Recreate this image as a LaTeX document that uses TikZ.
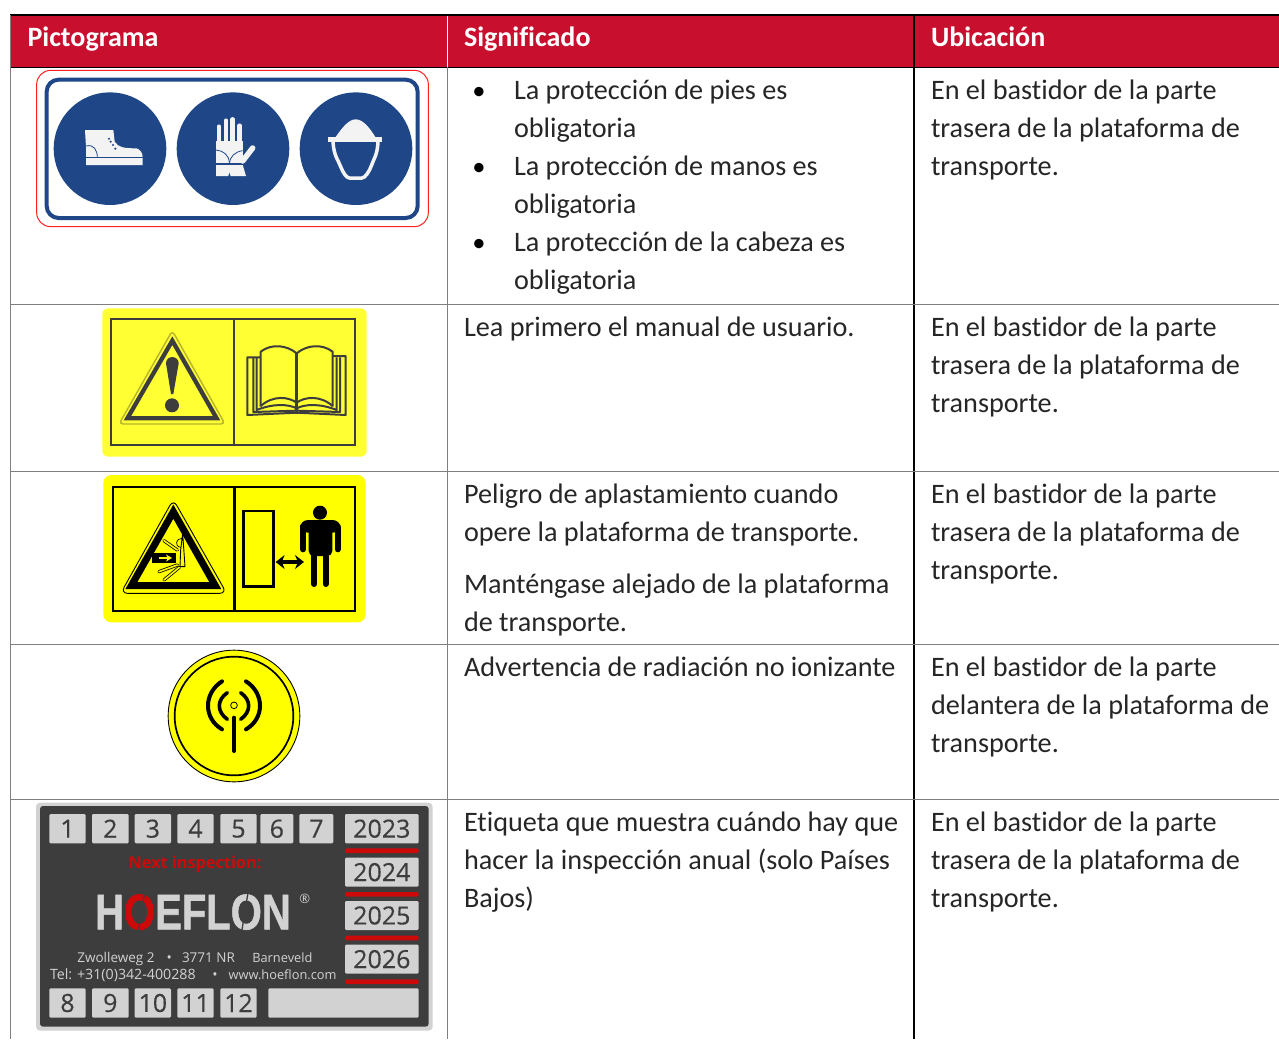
\documentclass[tikz,border=0pt]{standalone}
\usepackage{fontspec}
\usetikzlibrary{arrows.meta}
\setmainfont{Carlito}[Ligatures=NoCommon]
\newfontfamily\opensans{Open Sans}
\newfontfamily\opensansb[FakeBold=0.35]{Open Sans}
\newfontfamily\logofont[FakeBold=1.2]{Liberation Sans}
\definecolor{hdrred}{HTML}{C8102E}
\definecolor{signblue}{HTML}{1F4788}
\definecolor{ruleg}{HTML}{7F7F7F}
\definecolor{labdark}{HTML}{3D3D3D}
\definecolor{labbox}{HTML}{D2D2D2}
\definecolor{labred}{HTML}{CC0A0A}
\definecolor{softy}{HTML}{FFFF33}
\definecolor{puryel}{HTML}{FFFF00}
\definecolor{halo}{HTML}{B4B42D}
\definecolor{brightred}{HTML}{FF2020}
\definecolor{offwhite}{HTML}{F3F3F3}
\definecolor{textk}{HTML}{262626}
\newcounter{txn}
\newcommand{\tx}[3]{\stepcounter{txn}\node[bodytext] (t\thetxn) at (#1,#2+0.6) {#3};}
\newcommand{\hd}[2]{\stepcounter{txn}\node[headtext] (t\thetxn) at (#1,46.5) {#2};}
\newcommand{\bul}[1]{\stepcounter{txn}\node[bullettext] (t\thetxn) at (479,#1) {•};}
\newcommand{\lab}[5]{\fill[labbox,rounded corners=1.2pt] (#1,#2) rectangle (#3,#4); \stepcounter{txn}\node[labnum] (t\thetxn) at ({(#1+#3)/2},{(#2+#4)/2}) {#5};}
\newcommand{\addrsize}[1]{\fontsize{#1}{16}\selectfont}
\tikzset{
  bodytext/.style={anchor=base west,inner sep=0,outer sep=0,text=textk,font=\fontsize{28.2}{32}\selectfont},
  headtext/.style={anchor=base west,inner sep=0,outer sep=0,text=white,font=\fontsize{28}{32}\selectfont\bfseries},
  bullettext/.style={anchor=base,inner sep=0,outer sep=0,text=black,font=\fontsize{26.5}{30}\selectfont},
  labnum/.style={inner sep=0,outer sep=0,text=labdark,font=\opensansb\fontsize{25}{28}\selectfont},
  addr/.style={anchor=base west,inner sep=0,outer sep=0,text=labbox,font=\opensans},
  zoomed/.style={x=0.33333pt,y=-0.33333pt},
  gridline/.style={draw=ruleg,line width=1pt},
  darkline/.style={draw=black,line width=1.2pt}
}
\begin{document}
\begin{tikzpicture}[x=1pt,y=-1pt]
\useasboundingbox (0,0) rectangle (1279,1039);
\fill[white] (0,0) rectangle (1279,1039);
% table
\fill[hdrred] (10,15) rectangle (1279,67);
\draw[darkline] (10,15) -- (1279,15);
\draw[darkline] (10,67.5) -- (1279,67.5);
\draw[gridline] (10,15) -- (10,1039);
\draw[gridline] (447.5,67) -- (447.5,1039);
\draw[draw=white,line width=1pt] (447.5,16) -- (447.5,67);
\draw[darkline] (914,15) -- (914,1039);
\draw[gridline] (10,304.5) -- (1279,304.5);
\draw[gridline] (10,471.5) -- (1279,471.5);
\draw[gridline] (10,644.5) -- (1279,644.5);
\draw[gridline] (10,799.5) -- (1279,799.5);
\hd{27.5}{Pictograma}
\hd{464}{Significado}
\hd{931}{Ubicación}
% column 2
\bul{99}\bul{175}\bul{251}
\tx{514}{99}{La protección de pies es}
\tx{514}{137}{obligatoria}
\tx{514}{175}{La protección de manos es}
\tx{514}{213}{obligatoria}
\tx{514}{251}{La protección de la cabeza es}
\tx{514}{289}{obligatoria}
\tx{464}{336}{Lea primero el manual de usuario.}
\tx{464}{503}{Peligro de aplastamiento cuando}
\tx{464}{541}{opere la plataforma de transporte.}
\tx{464}{593}{Manténgase alejado de la plataforma}
\tx{464}{631}{de transporte.}
\tx{464}{676}{Advertencia de radiación no ionizante}
\tx{464}{831}{Etiqueta que muestra cuándo hay que}
\tx{464}{869}{hacer la inspección anual (solo Países}
\tx{464}{907}{Bajos)}
% column 3
\tx{931}{99}{En el bastidor de la parte}
\tx{931}{137}{trasera de la plataforma de}
\tx{931}{175}{transporte.}
\tx{931}{336}{En el bastidor de la parte}
\tx{931}{374}{trasera de la plataforma de}
\tx{931}{412}{transporte.}
\tx{931}{503}{En el bastidor de la parte}
\tx{931}{541}{trasera de la plataforma de}
\tx{931}{579}{transporte.}
\tx{931}{676}{En el bastidor de la parte}
\tx{931}{714}{delantera de la plataforma de}
\tx{931}{752}{transporte.}
\tx{931}{831}{En el bastidor de la parte}
\tx{931}{869}{trasera de la plataforma de}
\tx{931}{907}{transporte.}
% sign 1
\begin{scope}[shift={(20,60)},zoomed]
\draw[brightred,line width=1pt,rounded corners=14pt] (50,31) rectangle (1225,500);
\draw[signblue,line width=4pt,fill=white,rounded corners=12pt] (80,59) rectangle (1193,474);
\fill[signblue] (270,266) circle (169);
\fill[signblue] (639,266) circle (169);
\fill[signblue] (1008,266) circle (169);
% boot
\fill[offwhite] (195,210) -- (280,210) -- (284,245) .. controls (295,262) and (310,265) .. (350,265) .. controls (360,268) and (368,278) .. (368,292) -- (368,315) -- (198,315) -- (198,262) -- cycle;
\draw[signblue,line width=1pt] (198,293) -- (368,293);
\draw[signblue,line width=.8pt] (198,258) .. controls (222,252) and (232,270) .. (232,293);
\foreach \dx/\dy in {267/236,272/245,279/255,286/266} \fill[signblue] (\dx,\dy) circle (3.5);
% glove
\begin{scope}[offwhite,line width=4.5pt,line cap=round]
\draw (597,200) -- (597,262);
\draw (618,182) -- (618,262);
\draw (638,178) -- (638,262);
\draw (659,197) -- (659,262);
\draw[line width=5.5pt] (668,303) -- (698,264);
\end{scope}
\fill[offwhite] (588,244) -- (668,244) -- (668,310) -- (588,310) -- cycle;
\fill[offwhite] (588,314) -- (668,314) -- (678,348) -- (632,348) -- (628,336) -- (625,348) -- (588,348) -- cycle;
\draw[signblue,line width=1pt] (588,312) -- (668,312);
\draw[signblue,line width=.8pt] (588,270) .. controls (610,272) and (628,285) .. (628,310);
\draw[signblue,line width=.8pt] (668,272) .. controls (645,275) and (630,290) .. (628,310);
% helmet
\fill[offwhite] (945,234) .. controls (965,205) and (985,178) .. (1007,178) .. controls (1030,178) and (1050,205) .. (1068,234) -- cycle;
\fill[offwhite] (925,232) rectangle (1087,246);
\draw[offwhite,line width=3.5pt,line join=round] (939,246) .. controls (942,290) and (955,300) .. (962,320) .. controls (970,340) and (980,354) .. (988,354) -- (1026,354) .. controls (1035,354) and (1048,335) .. (1055,315) .. controls (1062,295) and (1072,285) .. (1074,246);
\end{scope}
% sign 2
\begin{scope}[shift={(90,300)},zoomed]
\fill[softy,rounded corners=6pt] (37,25) rectangle (830,470);
\draw[labdark,line width=2.3pt] (62,58) rectangle (795,435);
\draw[labdark,line width=2.3pt] (433,58) -- (433,435);
\draw[halo,line width=1.4pt,line join=round,rounded corners=4pt] (247,92) -- (405,372) -- (87,372) -- cycle;
\draw[labdark,line width=4.3pt,line join=miter] (247,122) -- (380,355) -- (112,355) -- cycle;
\fill[labdark] (228,190) .. controls (228,165) and (266,165) .. (266,190) -- (250,282) -- (243,282) -- cycle;
\fill[labdark] (246,316) circle (21);
\begin{scope}[labdark,line width=2pt,line join=round]
\draw (512,320) -- (512,155) .. controls (545,130) and (590,135) .. (620,160) .. controls (650,135) and (695,130) .. (728,155) -- (728,320);
\draw[line width=2.4pt] (620,160) -- (620,342);
\draw (512,318) .. controls (550,285) and (595,290) .. (620,308) .. controls (645,290) and (690,285) .. (728,318);
\draw (500,172) -- (500,330) .. controls (550,310) and (595,312) .. (620,325) .. controls (645,312) and (690,310) .. (740,330) -- (740,172);
\draw (490,172) -- (490,336) -- (620,332) -- (750,336) -- (750,172);
\draw (512,172) -- (472,172) -- (472,345) -- (620,338) -- (767,345) -- (767,168) -- (728,168);
\end{scope}
\end{scope}
% sign 3
\begin{scope}[shift={(90,470)},zoomed]
\fill[puryel,rounded corners=8pt] (40,15) rectangle (827,457);
\draw[black,line width=2.2pt] (70,50) rectangle (795,422);
\draw[black,line width=3.2pt] (433,50) -- (433,422);
\draw[black,line width=.9pt,rounded corners=7pt] (250,88) -- (410,370) -- (92,370) -- cycle;
\draw[black,line width=7pt,line join=miter] (250,125) -- (376,347) -- (124,347) -- cycle;
\fill (187,248) rectangle (258,280);
\draw[puryel,line width=1.5pt,-{Stealth[length=6pt,width=7pt]}] (208,264) -- (246,264);
\begin{scope}[line cap=round,line join=round]
\foreach \a/\b/\c/\d in {222/212/262/240,207/305/262/285,222/330/268/292} {
  \draw[black,line width=3.2pt] (\a,\b) -- (\c,\d);
  \draw[puryel,line width=1.6pt] (\a,\b) -- (\c,\d);
}
\draw[black,line width=.9pt,fill=puryel] (278,190) -- (272,240) -- (270,290) -- (285,290) -- cycle;
\draw[black,line width=.7pt] (276,205) .. controls (258,205) and (252,228) .. (272,232);
\end{scope}
\draw[black,line width=2.5pt] (460,123) rectangle (550,350);
\draw[black,line width=3.5pt,{Stealth[length=9pt,width=14pt,inset=3pt]}-{Stealth[length=9pt,width=14pt,inset=3pt]}] (557,276) -- (642,276);
\fill (690,128) circle (21);
\fill[rounded corners=5pt] (656,151) -- (727,151) -- (727,258) -- (656,258) -- cycle;
\begin{scope}[line width=6pt,line cap=round]
\draw (639,172) -- (639,238);
\draw (743,172) -- (743,238);
\draw (672,250) -- (672,342);
\draw (707,250) -- (707,342);
\end{scope}
\fill[rounded corners=8pt] (630,150) -- (752,150) -- (752,188) -- (630,188) -- cycle;
\end{scope}
% sign 4
\begin{scope}[shift={(150,640)},zoomed]
\draw[black,line width=.9pt,fill=puryel] (252,228) circle (197.5);
\draw[black,line width=1.7pt] (252,228) circle (178);
\draw[black,line width=.8pt] (252,196) circle (10);
\begin{scope}[line width=4pt,line cap=round,black]
\draw (252,233) -- (252,333);
\draw (216,124) .. controls (160,160) and (160,235) .. (216,268);
\draw (288,124) .. controls (344,160) and (344,235) .. (288,268);
\end{scope}
\begin{scope}[line width=3.6pt,line cap=round,black]
\draw (232,158) .. controls (200,180) and (200,215) .. (232,238);
\draw (272,158) .. controls (304,180) and (304,215) .. (272,238);
\end{scope}
\end{scope}
% sign 5
\begin{scope}[shift={(30,800)},zoomed]
\fill[labbox,rounded corners=4pt] (18,8) rectangle (1208,692);
\fill[labdark,rounded corners=3pt] (30,18) rectangle (1196,680);
\lab{58}{42}{167}{130}{1}
\lab{186}{42}{296}{130}{2}
\lab{314}{42}{423}{130}{3}
\lab{442}{42}{551}{130}{4}
\lab{571}{42}{680}{130}{5}
\lab{691}{42}{790}{130}{6}
\lab{808}{42}{910}{130}{7}
\lab{945}{42}{1166}{130}{2023}
\lab{945}{173}{1166}{260}{2024}
\lab{945}{303}{1166}{390}{2025}
\lab{945}{434}{1166}{521}{2026}
\lab{58}{565}{167}{653}{8}
\lab{186}{565}{296}{653}{9}
\lab{314}{565}{423}{653}{10}
\lab{442}{565}{551}{653}{11}
\lab{571}{565}{680}{653}{12}
\fill[labbox,rounded corners=1.2pt] (715,565) rectangle (1166,653);
\foreach \ry in {152,283,414,545} \fill[labred,rounded corners=2pt] (945,\ry-7) rectangle (1166,\ry+7);
\node[inner sep=0,text=labred,font=\opensans\bfseries\fontsize{16.3}{20}\selectfont] (nextinsp) at (495,192) {Next inspection:};
\node[anchor=base west,inner sep=0,xscale=.8,transform shape,text=labbox,font=\logofont\bfseries\fontsize{50}{52}\selectfont] (logo) at (195,388) {H\textcolor{labred}{O}EFLON};
\draw[labdark,line width=1.3pt] (345,272) -- (325,396);
\draw[labdark,line width=1.3pt] (655,272) -- (635,396);
\node[inner sep=0,text=labbox,font=\opensans\fontsize{13}{14}\selectfont] (reg) at (824,297) {®};
\node[addr] (addr1) at (142,486) {\addrsize{13.5}Zwolleweg 2};
\node[addr] (addr2) at (410,486) {\addrsize{14}•};
\node[addr] (addr3) at (456,486) {\addrsize{13.5}3771 NR};
\node[addr] (addr4) at (667,486) {\addrsize{12.8}Barneveld};
\node[addr] (addr5) at (60,537) {\addrsize{14.2}Tel: +31(0)342-400288};
\node[addr] (addr6) at (547,537) {\addrsize{14}•};
\node[addr] (addr7) at (596,537) {\addrsize{12.8}www.hoeflon.com};
\end{scope}
\end{tikzpicture}
\end{document}
